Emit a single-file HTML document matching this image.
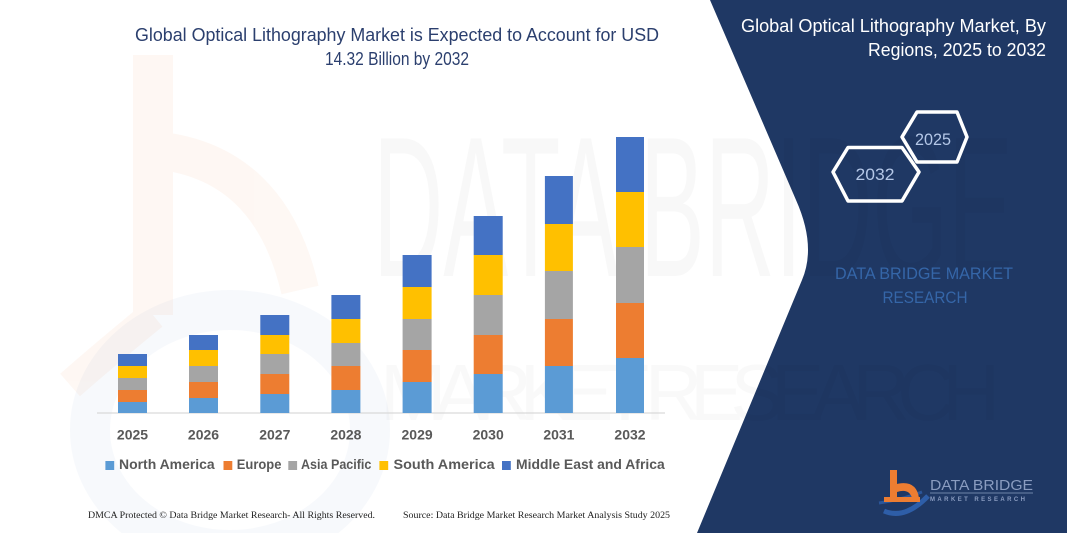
<!DOCTYPE html>
<html>
<head>
<meta charset="utf-8">
<style>
  html, body { margin:0; padding:0; background:#ffffff; }
  body { width:1067px; height:533px; overflow:hidden; }
  svg { display:block; }
</style>
</head>
<body>
<svg width="1067" height="533" viewBox="0 0 1067 533" xmlns="http://www.w3.org/2000/svg">
  <rect x="0" y="0" width="1067" height="533" fill="#ffffff"/>

  <!-- faint background logo (left) -->
  <g opacity="0.05">
    <path d="M153,55 L153,315" stroke="#ED7D31" stroke-width="40" fill="none"/>
    <path d="M153,150 Q270,160 300,290" stroke="#ED7D31" stroke-width="38" fill="none"/>
    <path d="M153,315 Q110,350 70,385" stroke="#ED7D31" stroke-width="30" fill="none"/>
  </g>
  <g opacity="0.045">
    <ellipse cx="230" cy="430" rx="140" ry="120" stroke="#4472C4" stroke-width="40" fill="none"/>
  </g>

  <!-- navy right panel -->
  <path d="M710,0 L796,200 Q816.5,246 802,280 L697,533 L1067,533 L1067,0 Z" fill="#1f3864"/>

  <!-- faint watermark text -->
  <text x="373" y="276" font-family="'Liberation Sans', sans-serif" font-size="200" fill="#000000" opacity="0.022" textLength="640" lengthAdjust="spacingAndGlyphs">DATA BRIDGE</text>
  <text x="380" y="420" font-family="'Liberation Sans', sans-serif" font-size="80" fill="#000000" opacity="0.018" textLength="620" lengthAdjust="spacing">MARKET RESEARCH</text>

  <!-- left title -->
  <g font-family="'Liberation Sans', sans-serif" font-size="18" fill="#2b3f6e" text-anchor="middle">
    <text x="397" y="41" textLength="524" lengthAdjust="spacingAndGlyphs">Global Optical Lithography Market is Expected to Account for USD</text>
    <text x="397" y="65" textLength="144" lengthAdjust="spacingAndGlyphs">14.32 Billion by 2032</text>
  </g>

  <!-- axis -->
  <line x1="97" y1="413" x2="665" y2="413" stroke="#d9d9d9" stroke-width="1.2"/>

  <!-- bars -->
  <g>
    <!-- 2025 -->
    <rect x="118" y="402" width="29" height="11" fill="#5B9BD5"/>
    <rect x="118" y="390" width="29" height="12" fill="#ED7D31"/>
    <rect x="118" y="378" width="29" height="12" fill="#A5A5A5"/>
    <rect x="118" y="366" width="29" height="12" fill="#FFC000"/>
    <rect x="118" y="354" width="29" height="12" fill="#4472C4"/>
    <!-- 2026 -->
    <rect x="189" y="398" width="29" height="15" fill="#5B9BD5"/>
    <rect x="189" y="382" width="29" height="16" fill="#ED7D31"/>
    <rect x="189" y="366" width="29" height="16" fill="#A5A5A5"/>
    <rect x="189" y="350" width="29" height="16" fill="#FFC000"/>
    <rect x="189" y="335" width="29" height="15" fill="#4472C4"/>
    <!-- 2027 -->
    <rect x="260.3" y="394" width="29" height="19" fill="#5B9BD5"/>
    <rect x="260.3" y="374" width="29" height="20" fill="#ED7D31"/>
    <rect x="260.3" y="354" width="29" height="20" fill="#A5A5A5"/>
    <rect x="260.3" y="335" width="29" height="19" fill="#FFC000"/>
    <rect x="260.3" y="315" width="29" height="20" fill="#4472C4"/>
    <!-- 2028 -->
    <rect x="331.4" y="390" width="29" height="23" fill="#5B9BD5"/>
    <rect x="331.4" y="366" width="29" height="24" fill="#ED7D31"/>
    <rect x="331.4" y="343" width="29" height="23" fill="#A5A5A5"/>
    <rect x="331.4" y="319" width="29" height="24" fill="#FFC000"/>
    <rect x="331.4" y="295" width="29" height="24" fill="#4472C4"/>
    <!-- 2029 -->
    <rect x="402.6" y="382" width="29" height="31" fill="#5B9BD5"/>
    <rect x="402.6" y="350" width="29" height="32" fill="#ED7D31"/>
    <rect x="402.6" y="319" width="29" height="31" fill="#A5A5A5"/>
    <rect x="402.6" y="287" width="29" height="32" fill="#FFC000"/>
    <rect x="402.6" y="255" width="29" height="32" fill="#4472C4"/>
    <!-- 2030 -->
    <rect x="473.7" y="374" width="29" height="39" fill="#5B9BD5"/>
    <rect x="473.7" y="335" width="29" height="39" fill="#ED7D31"/>
    <rect x="473.7" y="295" width="29" height="40" fill="#A5A5A5"/>
    <rect x="473.7" y="255" width="29" height="40" fill="#FFC000"/>
    <rect x="473.7" y="216" width="29" height="39" fill="#4472C4"/>
    <!-- 2031 -->
    <rect x="544.9" y="366" width="28" height="47" fill="#5B9BD5"/>
    <rect x="544.9" y="319" width="28" height="47" fill="#ED7D31"/>
    <rect x="544.9" y="271" width="28" height="48" fill="#A5A5A5"/>
    <rect x="544.9" y="224" width="28" height="47" fill="#FFC000"/>
    <rect x="544.9" y="176" width="28" height="48" fill="#4472C4"/>
    <!-- 2032 -->
    <rect x="616" y="358" width="28" height="55" fill="#5B9BD5"/>
    <rect x="616" y="303" width="28" height="55" fill="#ED7D31"/>
    <rect x="616" y="247" width="28" height="56" fill="#A5A5A5"/>
    <rect x="616" y="192" width="28" height="55" fill="#FFC000"/>
    <rect x="616" y="137" width="28" height="55" fill="#4472C4"/>
  </g>

  <!-- year labels -->
  <g font-family="'Liberation Sans', sans-serif" font-size="14" font-weight="bold" fill="#595959" text-anchor="middle">
    <text x="132.5" y="439.5">2025</text>
    <text x="203.5" y="439.5">2026</text>
    <text x="274.8" y="439.5">2027</text>
    <text x="345.9" y="439.5">2028</text>
    <text x="417.1" y="439.5">2029</text>
    <text x="488.2" y="439.5">2030</text>
    <text x="558.9" y="439.5">2031</text>
    <text x="630" y="439.5">2032</text>
  </g>

  <!-- legend -->
  <g font-family="'Liberation Sans', sans-serif" font-size="14" font-weight="bold" fill="#595959">
    <rect x="105.4" y="461" width="8.8" height="9" fill="#5B9BD5"/>
    <text x="119" y="469" textLength="95.7" lengthAdjust="spacingAndGlyphs">North America</text>
    <rect x="223.5" y="461" width="8.8" height="9" fill="#ED7D31"/>
    <text x="236.8" y="469" textLength="44.6" lengthAdjust="spacingAndGlyphs">Europe</text>
    <rect x="288.3" y="461" width="8.8" height="9" fill="#A5A5A5"/>
    <text x="301" y="469" textLength="70.4" lengthAdjust="spacingAndGlyphs">Asia Pacific</text>
    <rect x="379.4" y="461" width="8.8" height="9" fill="#FFC000"/>
    <text x="393.5" y="469" textLength="101.2" lengthAdjust="spacingAndGlyphs">South America</text>
    <rect x="502" y="461" width="8.8" height="9" fill="#4472C4"/>
    <text x="516" y="469" textLength="148.7" lengthAdjust="spacingAndGlyphs">Middle East and Africa</text>
  </g>

  <!-- footer -->
  <g font-family="'Liberation Serif', serif" font-size="9.5" fill="#222222">
    <text x="88" y="518" textLength="287" lengthAdjust="spacingAndGlyphs">DMCA Protected © Data Bridge Market Research-  All Rights Reserved.</text>
    <text x="403" y="518" textLength="267" lengthAdjust="spacingAndGlyphs">Source: Data Bridge Market Research  Market Analysis Study 2025</text>
  </g>

  <!-- right panel title -->
  <g font-family="'Liberation Sans', sans-serif" font-size="18" fill="#ffffff" text-anchor="end">
    <text x="1046" y="32" textLength="305" lengthAdjust="spacingAndGlyphs">Global Optical Lithography Market, By</text>
    <text x="1046" y="56" textLength="178" lengthAdjust="spacingAndGlyphs">Regions, 2025 to 2032</text>
  </g>

  <!-- hexagons -->
  <g fill="none" stroke="#ffffff" stroke-width="3.5" stroke-linejoin="round">
    <path d="M833,172 L848,147.5 L902,147.5 L919,172 L902,201 L848,201 Z"/>
    <path d="M902,137 L917,112 L957,112 L967,137 L957,162 L917,162 Z"/>
  </g>
  <g font-family="'Liberation Sans', sans-serif" font-size="17" fill="#b4c7e7" text-anchor="middle">
    <text x="875" y="180" textLength="39" lengthAdjust="spacingAndGlyphs">2032</text>
    <text x="933" y="145" textLength="36" lengthAdjust="spacingAndGlyphs">2025</text>
  </g>

  <!-- DATA BRIDGE MARKET RESEARCH -->
  <g font-family="'Liberation Sans', sans-serif" font-size="17" fill="#3566a8" text-anchor="middle">
    <text x="924" y="279" textLength="178" lengthAdjust="spacingAndGlyphs">DATA BRIDGE MARKET</text>
    <text x="925" y="303" textLength="85" lengthAdjust="spacingAndGlyphs">RESEARCH</text>
  </g>

  <!-- bottom-right logo -->
  <g>
    <path d="M884,511 Q905,520 928,496" stroke="#2e5ea8" stroke-width="5" fill="none"/>
    <path d="M879,503 Q900,500 922,492" stroke="#2e5ea8" stroke-width="3" fill="none" opacity="0.8"/>
    <rect x="890" y="470" width="7" height="30" fill="#ED7D31"/>
    <path d="M893,485 Q916,478 919,498 L912,498 Q909,488 897,492 Z" fill="#ED7D31"/>
    <rect x="884" y="497" width="36" height="5" fill="#ED7D31"/>
    <text x="930" y="490" font-family="'Liberation Sans', sans-serif" font-size="15" fill="#8a9cc0" textLength="103" lengthAdjust="spacingAndGlyphs">DATA BRIDGE</text>
    <line x1="930" y1="493" x2="1033" y2="493" stroke="#8a9cc0" stroke-width="0.8"/>
    <text x="930" y="501" font-family="'Liberation Sans', sans-serif" font-size="6" font-weight="bold" fill="#8a9cc0" textLength="95" lengthAdjust="spacing">MARKET RESEARCH</text>
  </g>
</svg>
</body>
</html>
